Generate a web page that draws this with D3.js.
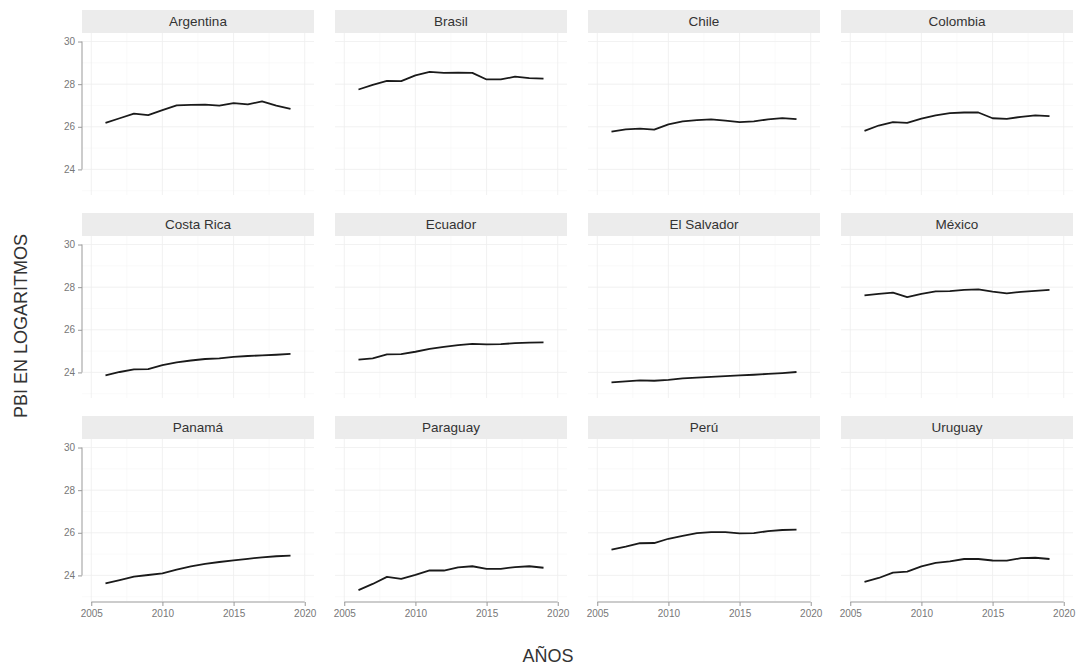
<!DOCTYPE html>
<html>
<head>
<meta charset="utf-8">
<script src="https://cdn.jsdelivr.net/npm/d3@7"></script>
<style>
  body { margin: 0; background: #fff; }
  svg { display: block; font-family: "Liberation Sans", Arial, sans-serif; }
</style>
</head>
<body>
<div id="chart"></div>
<script>
// Years on the x axis
const years = [2006, 2007, 2008, 2009, 2010, 2011, 2012, 2013, 2014, 2015, 2016, 2017, 2018, 2019];

// Panel order (facet labels)
const countries = ["Argentina", "Brasil", "Chile", "Colombia",
                   "Costa Rica", "Ecuador", "El Salvador", "México",
                   "Panamá", "Paraguay", "Perú", "Uruguay"];

// log GDP per country
const argentina  = [26.18, 26.40, 26.62, 26.55, 26.78, 27.00, 27.03, 27.04, 26.99, 27.11, 27.05, 27.19, 26.99, 26.84];
const brasil     = [27.75, 27.97, 28.15, 28.14, 28.41, 28.58, 28.53, 28.54, 28.53, 28.22, 28.22, 28.35, 28.28, 28.26];
const chile      = [25.77, 25.88, 25.91, 25.87, 26.11, 26.25, 26.31, 26.35, 26.29, 26.22, 26.25, 26.35, 26.41, 26.36];
const colombia   = [25.81, 26.06, 26.22, 26.18, 26.38, 26.54, 26.64, 26.67, 26.67, 26.40, 26.37, 26.47, 26.54, 26.50];
const costaRica  = [23.86, 24.02, 24.14, 24.15, 24.34, 24.47, 24.56, 24.63, 24.66, 24.73, 24.77, 24.80, 24.83, 24.87];
const ecuador    = [24.60, 24.66, 24.85, 24.86, 24.97, 25.10, 25.20, 25.28, 25.34, 25.32, 25.33, 25.37, 25.40, 25.41];
const elSalvador = [23.53, 23.58, 23.63, 23.61, 23.65, 23.72, 23.76, 23.79, 23.83, 23.86, 23.89, 23.93, 23.97, 24.02];
const mexico     = [27.61, 27.68, 27.74, 27.53, 27.69, 27.80, 27.81, 27.87, 27.90, 27.79, 27.71, 27.78, 27.83, 27.87];
const panama     = [23.63, 23.78, 23.94, 24.02, 24.10, 24.27, 24.42, 24.54, 24.63, 24.71, 24.78, 24.85, 24.90, 24.93];
const paraguay   = [23.31, 23.60, 23.93, 23.84, 24.03, 24.24, 24.23, 24.38, 24.43, 24.31, 24.31, 24.39, 24.43, 24.36];
const peru       = [25.21, 25.35, 25.51, 25.52, 25.72, 25.86, 25.98, 26.03, 26.03, 25.97, 25.98, 26.08, 26.13, 26.15];
const uruguay    = [23.70, 23.88, 24.13, 24.18, 24.42, 24.59, 24.66, 24.77, 24.77, 24.70, 24.69, 24.81, 24.83, 24.77];

// Tick labels
const xTicks = [2005, 2010, 2015, 2020];
const yTicks = [24, 26, 28, 30];

const series = [argentina, brasil, chile, colombia, costaRica, ecuador,
                elSalvador, mexico, panama, paraguay, peru, uruguay];

/* Set the dimensions and layout of the facets */
const width = 1080, height = 666;
const nCols = 4;
const panel = {left: 82, top: 10, width: 232, height: 162, colStep: 253, rowStep: 203, strip: 23};

const svg = d3.select("#chart")
    .append("svg")
    .attr("width", width)
    .attr("height", height)
    .attr("viewBox", [0, 0, width, height]);

/* Scales shared by every panel (positions relative to the panel) */
const xScale = d3.scaleLinear()
    .domain([2004.35, 2020.65])
    .range([0, panel.width]);
const yScale = d3.scaleLinear()
    .domain([22.8, 30.4])
    .range([panel.height, 0]);

const line = d3.line()
    .x((d, i) => xScale(years[i]))
    .y(d => yScale(d));

const minorX = [2007.5, 2012.5, 2017.5];
const minorY = [23, 25, 27, 29];

countries.forEach((country, k) => {
    const col = k % nCols, row = Math.floor(k / nCols);
    const x0 = panel.left + col * panel.colStep;
    const y0 = panel.top + row * panel.rowStep;

    const g = svg.append("g")
        .attr("transform", `translate(${x0},${y0})`);

    // strip with country name
    g.append("rect")
        .attr("width", panel.width)
        .attr("height", panel.strip)
        .attr("fill", "#ececec");
    g.append("text")
        .attr("x", panel.width / 2)
        .attr("y", panel.strip / 2)
        .attr("dy", "0.35em")
        .attr("text-anchor", "middle")
        .style("font-size", "13.5px")
        .style("fill", "#333")
        .text(country);

    const p = g.append("g")
        .attr("transform", `translate(0,${panel.strip})`);

    // grid lines, minor then major
    p.selectAll("line.minx").data(minorX).join("line")
        .attr("x1", d => xScale(d)).attr("x2", d => xScale(d))
        .attr("y1", 0).attr("y2", panel.height)
        .attr("stroke", "#f6f6f6").attr("stroke-width", 0.6);
    p.selectAll("line.miny").data(minorY).join("line")
        .attr("y1", d => yScale(d)).attr("y2", d => yScale(d))
        .attr("x1", 0).attr("x2", panel.width)
        .attr("stroke", "#f6f6f6").attr("stroke-width", 0.6);
    p.selectAll("line.majx").data(xTicks).join("line")
        .attr("x1", d => xScale(d)).attr("x2", d => xScale(d))
        .attr("y1", 0).attr("y2", panel.height)
        .attr("stroke", "#eeeeee").attr("stroke-width", 0.8);
    p.selectAll("line.majy").data(yTicks).join("line")
        .attr("y1", d => yScale(d)).attr("y2", d => yScale(d))
        .attr("x1", 0).attr("x2", panel.width)
        .attr("stroke", "#eeeeee").attr("stroke-width", 0.8);

    // the series line
    p.append("path")
        .datum(series[k])
        .attr("d", line)
        .attr("fill", "none")
        .attr("stroke", "#1a1a1a")
        .attr("stroke-width", 1.8)
        .attr("stroke-linejoin", "round");

    // y axis only in the first column, line capped at first/last tick
    if (col === 0) {
        const yAxis = d3.axisLeft(yScale).tickValues(yTicks).tickSize(4).tickPadding(3);
        const ya = p.append("g").call(yAxis);
        ya.select(".domain")
            .attr("d", `M0,${yScale(yTicks[yTicks.length - 1])}V${yScale(yTicks[0])}`);
        ya.selectAll("path, line").attr("stroke", "#999");
        ya.selectAll("text").style("font-size", "10px").style("fill", "#777")
            .style("font-family", "Liberation Sans, Arial, sans-serif");
    }

    // x axis only in the bottom row
    if (row === 2) {
        const xAxis = d3.axisBottom(xScale).tickValues(xTicks).tickFormat(d3.format("d"))
            .tickSize(4).tickPadding(4);
        const xa = p.append("g")
            .attr("transform", `translate(0,${panel.height + 1})`)
            .call(xAxis);
        xa.select(".domain")
            .attr("d", `M${xScale(xTicks[0])},0H${xScale(xTicks[xTicks.length - 1])}`);
        xa.selectAll("path, line").attr("stroke", "#999");
        xa.selectAll("text").style("font-size", "10px").style("fill", "#777")
            .style("font-family", "Liberation Sans, Arial, sans-serif");
    }
});

/* Axis titles */
svg.append("text")
    .attr("x", 548)
    .attr("y", 662)
    .attr("text-anchor", "middle")
    .style("font-size", "18px")
    .style("fill", "#333")
    .text("AÑOS");

svg.append("text")
    .attr("transform", "translate(27,326) rotate(-90)")
    .attr("text-anchor", "middle")
    .style("font-size", "18px")
    .style("fill", "#333")
    .text("PBI EN LOGARITMOS");
</script>
</body>
</html>
